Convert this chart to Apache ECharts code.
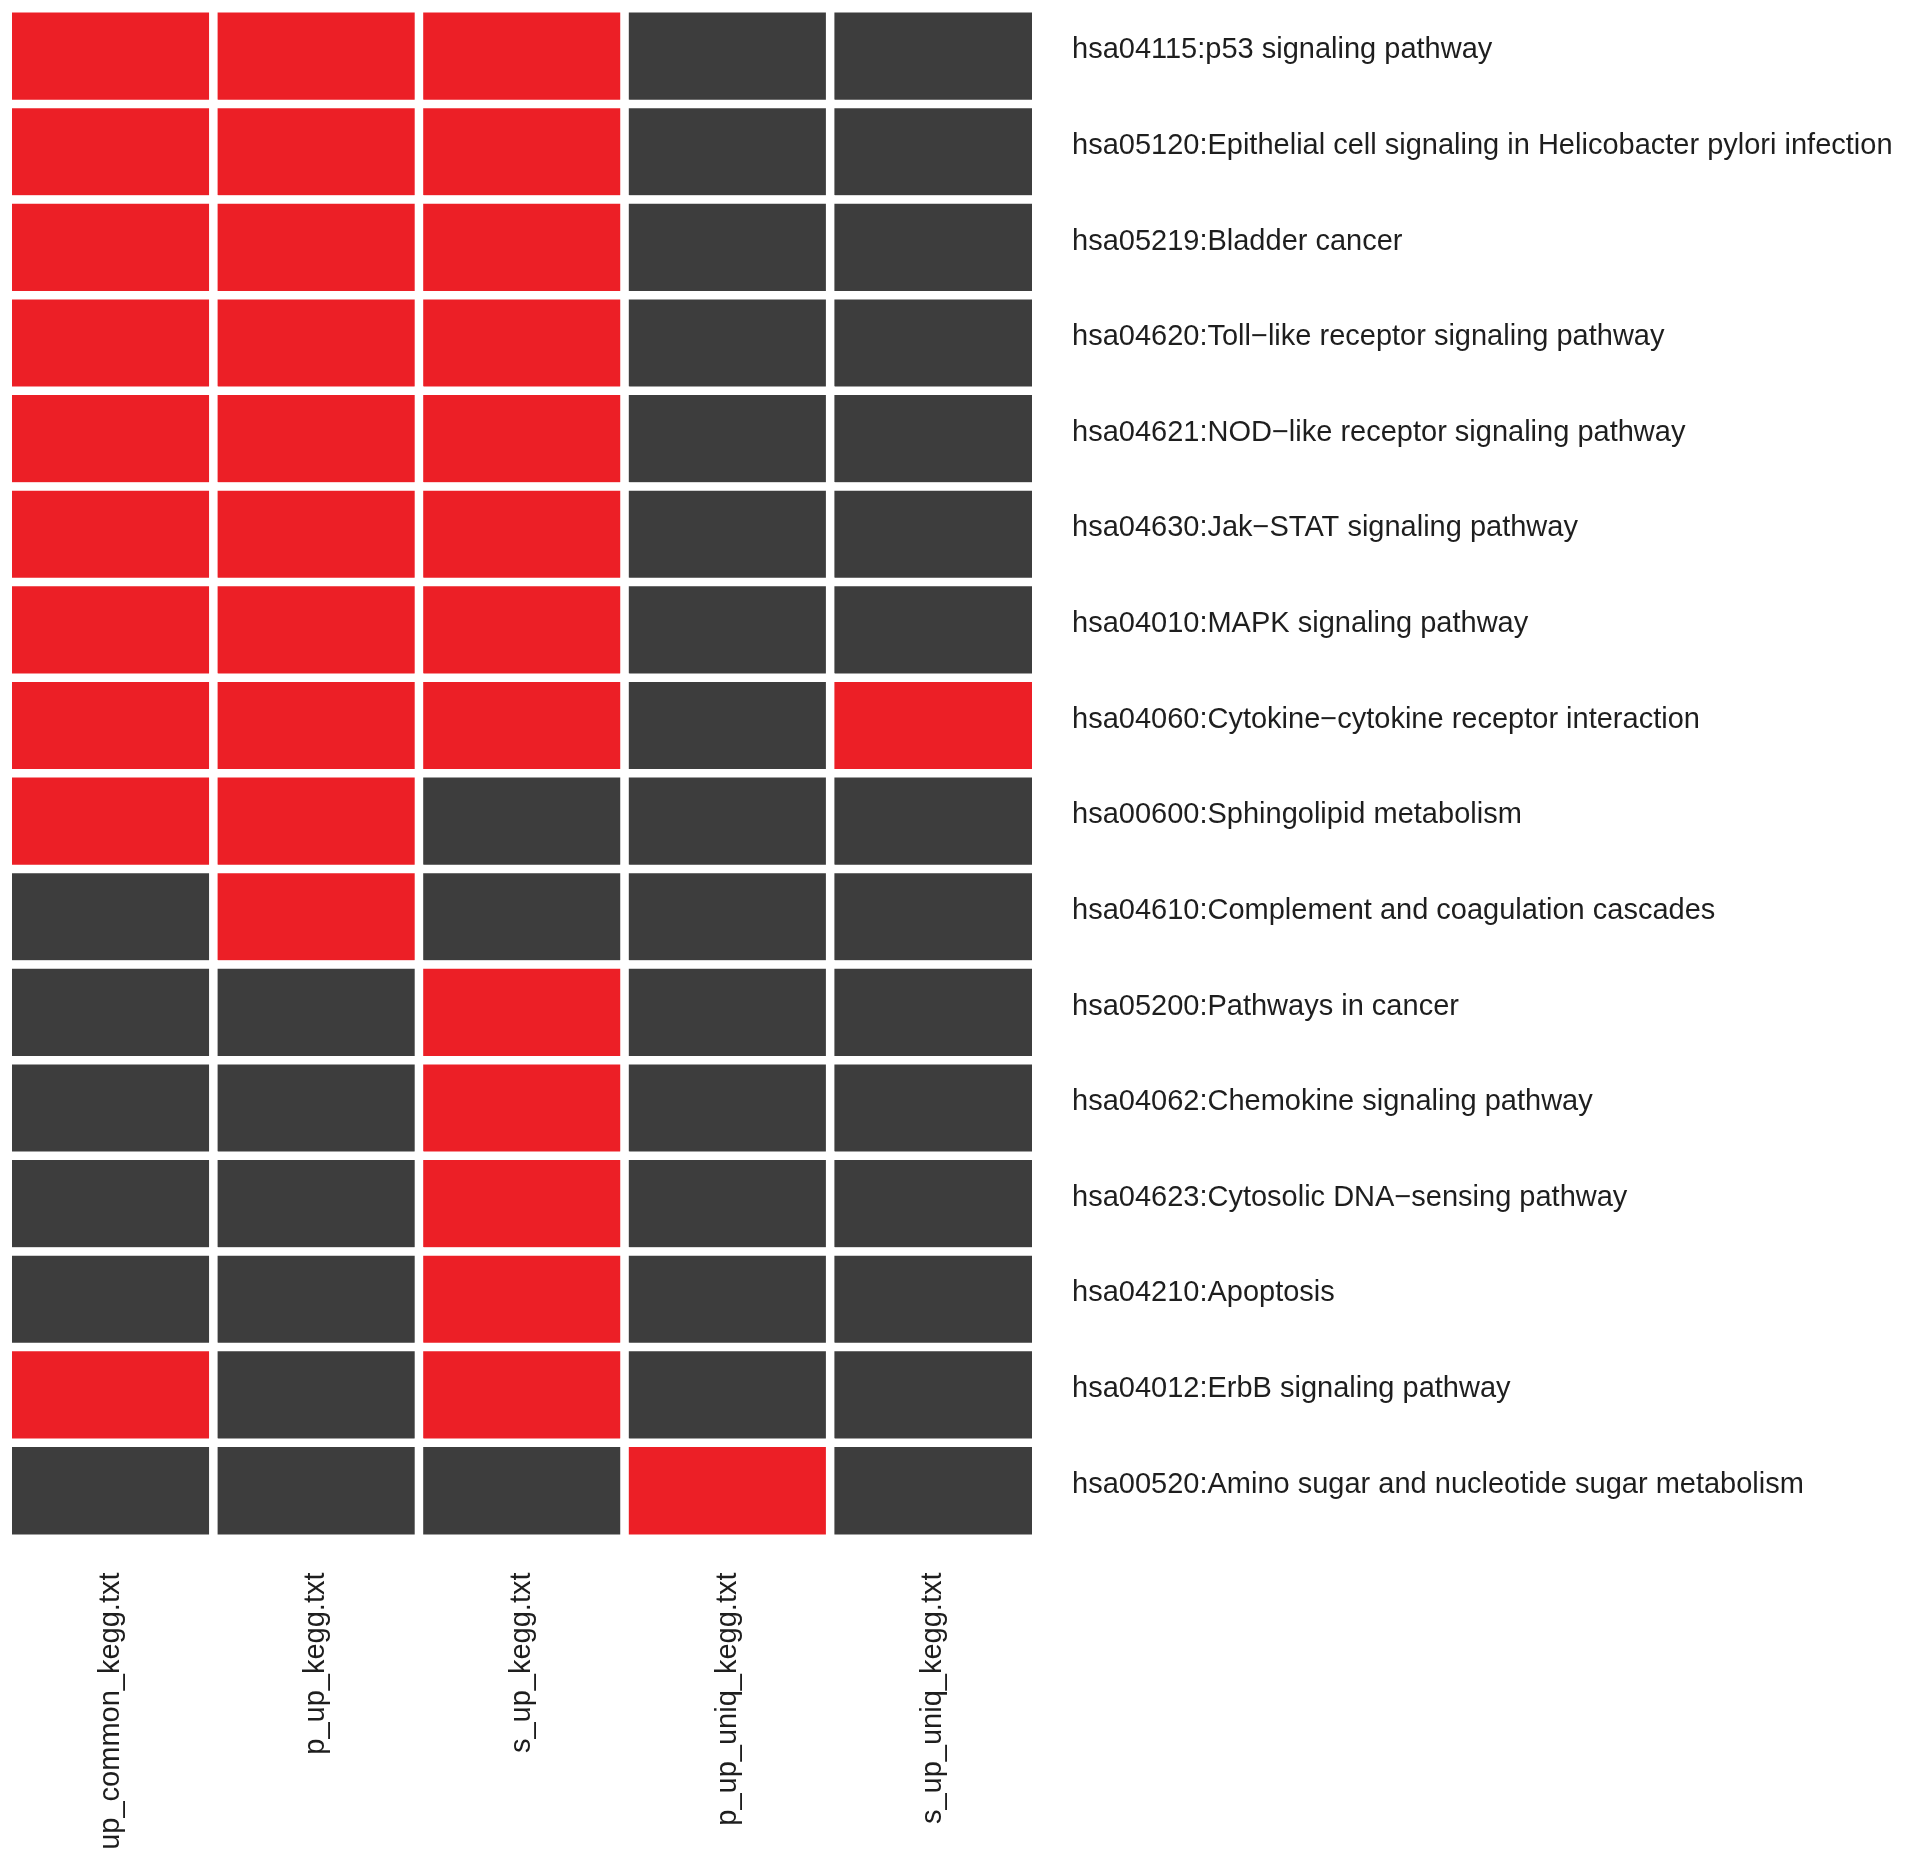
<!DOCTYPE html>
<html>
<head>
<meta charset="utf-8">
<script src="https://cdn.jsdelivr.net/npm/echarts@6/dist/echarts.min.js"></script>
<style>
  html, body { margin: 0; padding: 0; background: #fff; }
  #main { width: 1913px; height: 1865px; }
</style>
</head>
<body>
<div id="main"></div>
<script>
// 列（文件）
var files = ['up_common_kegg.txt', 'p_up_kegg.txt', 's_up_kegg.txt', 'p_up_uniq_kegg.txt', 's_up_uniq_kegg.txt'];
// 行（通路），从上到下
var pathways = [
    'hsa04115:p53 signaling pathway',
    'hsa05120:Epithelial cell signaling in Helicobacter pylori infection',
    'hsa05219:Bladder cancer',
    'hsa04620:Toll\u2212like receptor signaling pathway',
    'hsa04621:NOD\u2212like receptor signaling pathway',
    'hsa04630:Jak\u2212STAT signaling pathway',
    'hsa04010:MAPK signaling pathway',
    'hsa04060:Cytokine\u2212cytokine receptor interaction',
    'hsa00600:Sphingolipid metabolism',
    'hsa04610:Complement and coagulation cascades',
    'hsa05200:Pathways in cancer',
    'hsa04062:Chemokine signaling pathway',
    'hsa04623:Cytosolic DNA\u2212sensing pathway',
    'hsa04210:Apoptosis',
    'hsa04012:ErbB signaling pathway',
    'hsa00520:Amino sugar and nucleotide sugar metabolism'
];
// 每行是否富集：1 = 红色, 0 = 灰色
var hits = [
    [1, 1, 1, 0, 0],
    [1, 1, 1, 0, 0],
    [1, 1, 1, 0, 0],
    [1, 1, 1, 0, 0],
    [1, 1, 1, 0, 0],
    [1, 1, 1, 0, 0],
    [1, 1, 1, 0, 0],
    [1, 1, 1, 0, 1],
    [1, 1, 0, 0, 0],
    [0, 1, 0, 0, 0],
    [0, 0, 1, 0, 0],
    [0, 0, 1, 0, 0],
    [0, 0, 1, 0, 0],
    [0, 0, 1, 0, 0],
    [1, 0, 1, 0, 0],
    [0, 0, 0, 1, 0]
];

var data = [];
hits.forEach(function (row, r) {
    row.forEach(function (v, c) {
        data.push([c, r, v]);
    });
});

var myChart = echarts.init(document.getElementById('main'));
var font = '"Liberation Sans", Arial, Helvetica, sans-serif';

var option = {
    backgroundColor: '#ffffff',
    animation: false,
    grid: { left: 8, top: 8.5, width: 1028, height: 1530 },
    xAxis: {
        type: 'category',
        data: files,
        position: 'bottom',
        axisLine: { show: false },
        axisTick: { show: false },
        splitLine: { show: false },
        axisLabel: {
            rotate: 90,
            margin: 34,
            fontSize: 29,
            color: '#1e1e1e',
            fontFamily: font,
            interval: 0
        }
    },
    yAxis: {
        type: 'category',
        data: pathways,
        inverse: true,
        position: 'right',
        axisLine: { show: false },
        axisTick: { show: false },
        splitLine: { show: false },
        axisLabel: {
            margin: 36,
            fontSize: 29,
            color: '#1e1e1e',
            fontFamily: font,
            align: 'left',
            verticalAlign: 'bottom',
            lineHeight: 12,
            interval: 0
        }
    },
    visualMap: {
        show: false,
        type: 'piecewise',
        dimension: 2,
        pieces: [
            { value: 0, color: '#3d3d3d' },
            { value: 1, color: '#ec1f26' }
        ]
    },
    series: [{
        type: 'heatmap',
        data: data,
        itemStyle: { borderColor: '#ffffff', borderWidth: 8.5 },
        emphasis: { disabled: true }
    }]
};

myChart.setOption(option);
window.addEventListener('resize', function () {
    myChart.resize();
});
</script>
</body>
</html>
